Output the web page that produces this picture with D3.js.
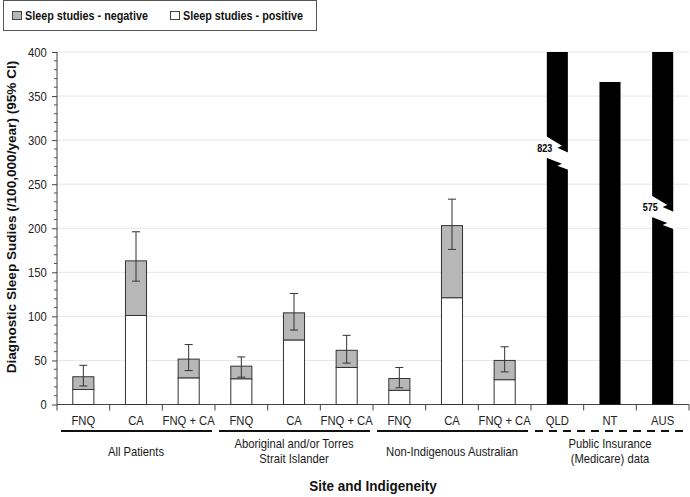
<!DOCTYPE html>
<html>
<head>
<meta charset="utf-8">
<script src="https://cdn.jsdelivr.net/npm/d3@7"></script>
<style>
  html, body { margin: 0; padding: 0; background: #fff; }
  svg { display: block; font-family: "Liberation Sans", Arial, sans-serif; }
</style>
</head>
<body>
<svg id="chart" width="690" height="497"></svg>
<script>
// ---- data ----
const categories = ["FNQ", "CA", "FNQ + CA", "FNQ", "CA", "FNQ + CA", "FNQ", "CA", "FNQ + CA", "QLD", "NT", "AUS"];
const groups = ["All Patients", "Aboriginal and/or Torres\nStrait Islander", "Non-Indigenous Australian", "Public Insurance\n(Medicare) data"];
const groupSizes = [3, 3, 3, 3];
const positiveRates = [17, 101, 30, 29, 73, 42, 16, 121, 28];
const totalRates = [31.5, 163, 51.5, 43.5, 104, 61.5, 29.5, 203, 50];
const ciLow = [21, 140, 38.5, 31, 84.5, 47, 19, 176, 37];
const ciHigh = [44.5, 196, 68, 54, 126, 78.5, 42, 233, 65.5];
const medicareRates = [823, 366, 575];
const medicareCats = ["QLD", "NT", "AUS"];
const breakAt = [{ cat: "QLD", value: 306 }, { cat: "AUS", value: 239 }];
const yTicks = [0, 50, 100, 150, 200, 250, 300, 350, 400];
const legendLabels = ["Sleep studies - negative", "Sleep studies - positive"];

// ---- layout ----
const svg = d3.select("#chart");
const pL = 57, pR = 689, pT = 52, pB = 404.5;
const yMax = 400;
const SX = 0.9; // horizontal squeeze of the lettering
const x = d3.scaleBand().domain(d3.range(categories.length)).range([pL, pR]).paddingInner(0.6).paddingOuter(0.3);
const xb = d3.scaleBand().domain(d3.range(categories.length)).range([pL, pR]);
const y = d3.scaleLinear().domain([0, yMax]).range([pB, pT]);
const gray = "#b7b7b7", edge = "#333";

function label(px, py, str, size, weight, anchor) {
  return svg.append("text")
    .attr("transform", `translate(${px},${py}) scale(${SX},1)`)
    .attr("text-anchor", anchor || "middle")
    .attr("font-size", size).attr("font-weight", weight || "normal")
    .attr("fill", "#1a1a1a").text(str);
}

// gridlines
svg.append("g").selectAll("line").data(yTicks.filter(d => d > 0)).join("line")
  .attr("x1", pL).attr("x2", pR)
  .attr("y1", d => y(d)).attr("y2", d => y(d))
  .attr("stroke", "#e6e6e6").attr("stroke-width", 1);

// y axis
const yAxis = d3.axisLeft(y).tickValues(yTicks).tickSize(5).tickPadding(6.5);
const gy = svg.append("g").attr("transform", `translate(${pL},0)`).call(yAxis);
gy.select(".domain").remove();
gy.selectAll(".tick line").attr("stroke", "#444");
gy.selectAll("text").attr("font-size", 12.5).attr("fill", "#222")
  .attr("font-family", "Liberation Sans, Arial, sans-serif").attr("transform", `scale(${SX},1)`);
const minor = d3.range(0, yMax + 1, 10).filter(d => d % 50 !== 0);
svg.append("g").selectAll("line").data(minor).join("line")
  .attr("x1", pL - 3).attr("x2", pL)
  .attr("y1", d => y(d)).attr("y2", d => y(d))
  .attr("stroke", "#555");
svg.append("line").attr("x1", pL).attr("x2", pL).attr("y1", pT).attr("y2", pB + 6)
  .attr("stroke", "#444");

// x axis
const xAxis = d3.axisBottom(xb).tickFormat(i => categories[i]).tickSize(0).tickPadding(12);
const gx = svg.append("g").attr("transform", `translate(0,${pB})`).call(xAxis);
gx.select(".domain").remove();
gx.selectAll("text").attr("font-size", 12.5).attr("fill", "#222")
  .attr("font-family", "Liberation Sans, Arial, sans-serif").attr("transform", `scale(${SX},1)`);
svg.append("line").attr("x1", pL).attr("x2", pR).attr("y1", pB).attr("y2", pB).attr("stroke", "#444");
svg.append("g").selectAll("line").data(d3.range(1, categories.length + 1)).join("line")
  .attr("x1", i => xb(0) + i * xb.bandwidth()).attr("x2", i => xb(0) + i * xb.bandwidth())
  .attr("y1", pB).attr("y2", pB + 6).attr("stroke", "#444");

// stacked bars (sleep studies)
const studyIdx = d3.range(positiveRates.length);
const bars = svg.append("g");
bars.selectAll("rect.neg").data(studyIdx).join("rect")
  .attr("x", i => x(i)).attr("width", x.bandwidth())
  .attr("y", i => y(totalRates[i])).attr("height", i => y(positiveRates[i]) - y(totalRates[i]))
  .attr("fill", gray).attr("stroke", edge).attr("stroke-width", 1);
bars.selectAll("rect.pos").data(studyIdx).join("rect")
  .attr("x", i => x(i)).attr("width", x.bandwidth())
  .attr("y", i => y(positiveRates[i])).attr("height", i => y(0) - y(positiveRates[i]))
  .attr("fill", "#fff").attr("stroke", edge).attr("stroke-width", 1);

// error bars
const eb = svg.append("g").attr("stroke", "#333").attr("stroke-width", 1);
studyIdx.forEach(i => {
  const cx = x(i) + x.bandwidth() / 2;
  eb.append("line").attr("x1", cx).attr("x2", cx).attr("y1", y(ciLow[i])).attr("y2", y(ciHigh[i]));
  eb.append("line").attr("x1", cx - 4).attr("x2", cx + 4).attr("y1", y(ciLow[i])).attr("y2", y(ciLow[i]));
  eb.append("line").attr("x1", cx - 4).attr("x2", cx + 4).attr("y1", y(ciHigh[i])).attr("y2", y(ciHigh[i]));
});

// medicare bars
const medIdx = medicareRates.map((v, k) => positiveRates.length + k);
svg.append("g").selectAll("rect").data(medIdx).join("rect")
  .attr("x", i => x(i)).attr("width", x.bandwidth())
  .attr("y", i => y(Math.min(yMax, medicareRates[i - positiveRates.length])))
  .attr("height", i => y(0) - y(Math.min(yMax, medicareRates[i - positiveRates.length])))
  .attr("fill", "#000");

// axis breaks
breakAt.forEach(b => {
  const k = medicareCats.indexOf(b.cat);
  const i = positiveRates.length + k;
  const x0 = x(i), w = x.bandwidth();
  const y1 = y(b.value);
  const pts = [
    [x0 - 3, y1], [x0 + 0.72 * w, y1 + 11], [x0 + 0.5 * w, y1 + 13], [x0 + w + 3, y1 + 19],
    [x0 + w + 3, y1 + 36], [x0 + 0.5 * w, y1 + 31], [x0 + 0.72 * w, y1 + 29], [x0 - 3, y1 + 22]
  ];
  svg.append("polygon").attr("points", pts.map(p => p.join(",")).join(" ")).attr("fill", "#fff");
  label(x0 - 2, y1 + 17, medicareRates[k], 10, "bold").attr("fill", "#000");
});

// group lines and labels
let start = 0;
groups.forEach((g, gi) => {
  const n = groupSizes[gi];
  const x1 = xb(start) + 4, x2 = xb(start + n - 1) + xb.bandwidth() - 3;
  const ln = svg.append("line").attr("x1", x1).attr("x2", x2).attr("y1", 431).attr("y2", 431)
    .attr("stroke", "#111").attr("stroke-width", 2);
  if (gi === groups.length - 1) ln.attr("stroke-dasharray", "8,6");
  const lines = g.split("\n");
  const cx = (xb(start) + xb(start + n - 1) + xb.bandwidth()) / 2;
  const y0 = lines.length === 1 ? 456 : 447.5;
  const t = label(cx, y0, null, 12.5);
  lines.forEach((s, li) => t.append("tspan").attr("x", 0).attr("y", li * 16).text(s));
  start += n;
});

// axis titles
label((pL + pR) / 2, 491, "Site and Indigeneity", 15, "bold").attr("fill", "#111");
svg.append("text").attr("transform", `translate(16,217) scale(${SX},1) rotate(-90)`).attr("text-anchor", "middle")
  .attr("font-size", 13.6).attr("font-weight", "bold").attr("fill", "#111")
  .text("Diagnostic Sleep Sudies (/100,000/year) (95% CI)");

// legend
svg.append("rect").attr("x", 3.5).attr("y", 0.5).attr("width", 313).attr("height", 30)
  .attr("fill", "#fff").attr("stroke", "#555");
const lx = [12, 170];
legendLabels.forEach((s, k) => {
  svg.append("rect").attr("x", lx[k] + 0.5).attr("y", 11.5).attr("width", 9).attr("height", 8)
    .attr("fill", k === 0 ? gray : "#fff").attr("stroke", "#444");
  label(lx[k] + 13, 20, s, 12, "bold", "start").attr("fill", "#111");
});
</script>
</body>
</html>
